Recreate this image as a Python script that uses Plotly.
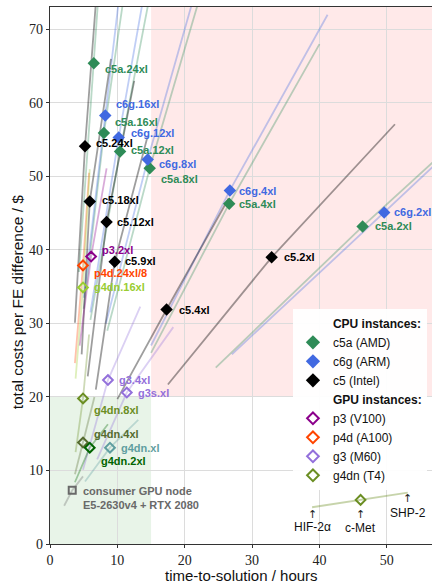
import plotly.graph_objects as go

# ------------------------------------------------------------------ data
inst_names = ["c5a.24xl", "c5a.16xl", "c5a.12xl", "c5a.8xl", "c5a.4xl", "c5a.2xl",
              "c6g.16xl", "c6g.12xl", "c6g.8xl", "c6g.4xl", "c6g.2xl",
              "c5.24xl", "c5.18xl", "c5.12xl", "c5.9xl", "c5.4xl", "c5.2xl",
              "p3.2xl", "p4d.24xl/8", "g3.4xl", "g3s.xl",
              "g4dn.16xl", "g4dn.8xl", "g4dn.4xl", "g4dn.2xl", "g4dn.xl",
              "consumer"]
inst_labels = ["c5a.24xl", "c5a.16xl", "c5a.12xl", "c5a.8xl", "c5a.4xl", "c5a.2xl",
               "c6g.16xl", "c6g.12xl", "c6g.8xl", "c6g.4xl", "c6g.2xl",
               "c5.24xl", "c5.18xl", "c5.12xl", "c5.9xl", "c5.4xl", "c5.2xl",
               "p3.2xl", "p4d.24xl/8", "g3.4xl", "g3s.xl",
               "g4dn.16xl", "g4dn.8xl", "g4dn.4xl", "g4dn.2xl", "g4dn.xl",
               "consumer GPU node<br>E5-2630v4 + RTX 2080"]
# c-Met (marker) time-to-solution [h] and cost [$]
t_cmet = [6.5, 8.0, 10.4, 14.8, 26.6, 46.4,
          8.2, 10.2, 14.5, 26.7, 49.6,
          5.2, 5.9, 8.4, 9.6, 17.3, 32.9,
          6.1, 4.9, 8.6, 11.4,
          4.9, 4.9, 4.9, 5.9, 8.9,
          3.3]
c_cmet = [65.4, 55.9, 53.4, 51.1, 46.3, 43.2,
          58.3, 55.3, 52.3, 48.1, 45.1,
          54.1, 46.6, 43.8, 38.4, 31.9, 39.0,
          39.1, 37.9, 22.3, 20.6,
          34.9, 19.8, 13.8, 13.1, 13.1,
          7.3]
# HIF-2alpha (line start)
t_hif = [4.3, 5.0, 6.0, 8.5, 15.0, 24.6,
         5.0, 6.0, 8.3, 15.0, 27.0,
         3.7, 4.7, 5.6, 6.8, 10.0, 17.5,
         4.4, 3.7, 4.9, 7.0,
         3.8, 3.8, 3.7, 3.7, 5.2,
         2.1]
c_hif = [37.0, 32.0, 30.5, 29.0, 26.0, 24.0,
         33.5, 31.5, 30.0, 27.0, 25.8,
         30.1, 25.8, 22.8, 21.0, 19.7, 21.7,
         27.0, 24.6, 10.1, 11.5,
         22.5, 12.5, 9.5, 8.4, 8.5,
         5.2]
# SHP-2 (line end)
t_shp = [7.6, 11.2, 15.0, 22.5, 40.0, 70.0,
         10.8, 14.5, 22.0, 41.2, 75.0,
         7.0, 9.05, 12.5, 14.5, 26.5, 51.2,
         8.4, 5.8, 13.4, 18.3,
         5.9, 5.8, 6.6, 8.6, 13.1,
         4.9]
c_shp = [80.0, 76.0, 75.5, 75.2, 68.0, 63.0,
         78.5, 77.6, 76.5, 72.0, 67.0,
         76.0, 66.0, 63.0, 55.5, 47.0, 57.1,
         51.1, 50.5, 32.3, 29.5,
         51.0, 28.5, 20.0, 16.3, 16.9,
         9.2]

time_limit = 15      # hours
cost_limit = 20      # $

key_t = [38.9, 46.1, 53.1]
key_c = [5.0, 6.0, 7.0]
key_labels = ["HIF-2α", "c-Met", "SHP-2"]

legend_cpu = ["c5a (AMD)", "c6g (ARM)", "c5 (Intel)"]
legend_gpu = ["p3 (V100)", "p4d (A100)", "g3 (M60)", "g4dn (T4)"]

x_ticks = [0, 10, 20, 30, 40, 50]
y_ticks = [0, 10, 20, 30, 40, 50, 60, 70]

# ------------------------------------------------------------------ styles
SG, RB, BK = "#2E8B57", "#4169E1", "#000000"
PM, OR, MP = "#8B008B", "#FF4500", "#9370DB"
YG, OD, DO, DG, CB, GR = "#9ACD32", "#6B8E23", "#556B2F", "#006400", "#5F9EA0", "#696969"

# name: (color, symbol, dx, dy_down)
style = {
    "c5a.24xl": (SG, "diamond", 9, 6), "c5a.16xl": (SG, "diamond", 9, -11),
    "c5a.12xl": (SG, "diamond", 9, -1), "c5a.8xl": (SG, "diamond", 9, 11),
    "c5a.4xl": (SG, "diamond", 8, 0), "c5a.2xl": (SG, "diamond", 10, 0),
    "c6g.16xl": (RB, "diamond", 9, -11), "c6g.12xl": (RB, "diamond", 10, -4),
    "c6g.8xl": (RB, "diamond", 9, 4), "c6g.4xl": (RB, "diamond", 7, 1),
    "c6g.2xl": (RB, "diamond", 8, 0),
    "c5.24xl": (BK, "diamond", 9, -3), "c5.18xl": (BK, "diamond", 10, -1),
    "c5.12xl": (BK, "diamond", 8, 0), "c5.9xl": (BK, "diamond", 8, -1),
    "c5.4xl": (BK, "diamond", 10, 0), "c5.2xl": (BK, "diamond", 10, 0),
    "p3.2xl": (PM, "diamond-open", 9, -7), "p4d.24xl/8": (OR, "diamond-open", 9, 8),
    "g3.4xl": (MP, "diamond-open", 9, 0), "g3s.xl": (MP, "diamond-open", 9, 0),
    "g4dn.16xl": (YG, "diamond-open", 9, 0), "g4dn.8xl": (OD, "diamond-open", 9, 12),
    "g4dn.4xl": (DO, "diamond-open", 9, -9), "g4dn.2xl": (DG, "diamond-open", 9, 13),
    "g4dn.xl": (CB, "diamond-open", 9, 0),
    "consumer": (GR, "square-open", 9, 7.5),
}


def rgba(hexcol, a):
    h = hexcol.lstrip("#")
    r, g, b = int(h[0:2], 16), int(h[2:4], 16), int(h[4:6], 16)
    return f"rgba({r},{g},{b},{a})"


def marker_of(col, sym):
    if sym == "diamond":
        return dict(symbol=sym, size=9.6, color=col, line=dict(width=0))
    if sym == "square-open":
        return dict(symbol=sym, size=7, color=col, line=dict(width=2, color=col))
    return dict(symbol=sym, size=7.5, color=col, line=dict(width=2, color=col))


fig = go.Figure()

# lines first (HIF-2a -> c-Met -> SHP-2)
for i, n in enumerate(inst_names):
    col, sym, dx, dy = style[n]
    a = 0.38 if col == BK else 0.33
    fig.add_trace(go.Scatter(
        x=[t_hif[i], t_cmet[i], t_shp[i]], y=[c_hif[i], c_cmet[i], c_shp[i]],
        mode="lines", line=dict(color=rgba(col, a), width=1.8),
        showlegend=False, hoverinfo="skip"))

# key example line
fig.add_trace(go.Scatter(x=key_t, y=key_c, mode="lines",
                         line=dict(color=rgba(OD, 0.38), width=1.8),
                         showlegend=False, hoverinfo="skip"))

# markers
for i, n in enumerate(inst_names):
    col, sym, dx, dy = style[n]
    fig.add_trace(go.Scatter(x=[t_cmet[i]], y=[c_cmet[i]], mode="markers",
                             marker=marker_of(col, sym), showlegend=False,
                             name=n, cliponaxis=False))
fig.add_trace(go.Scatter(x=[key_t[1]], y=[key_c[1]], mode="markers",
                         marker=marker_of(OD, "diamond-open"), showlegend=False))

# labels
for i, n in enumerate(inst_names):
    col, sym, dx, dy = style[n]
    fig.add_annotation(x=t_cmet[i], y=c_cmet[i], text="<b>" + inst_labels[i] + "</b>",
                       showarrow=False, xanchor="left", yanchor="middle", align="left",
                       xshift=dx, yshift=-dy,
                       font=dict(family="Liberation Sans", size=11, color=col))

# key labels (arrow + name)
arrow_shift = [-7, -15, -6]
text_shift = [-20, -28, -20]
for k in range(3):
    fig.add_annotation(x=key_t[k], y=key_c[k], text="↑",
                       showarrow=False, xanchor="center", yanchor="middle",
                       yshift=arrow_shift[k],
                       font=dict(family="DejaVu Sans", size=11, color="#222"))
    fig.add_annotation(x=key_t[k], y=key_c[k], text=key_labels[k],
                       showarrow=False, xanchor="center", yanchor="middle",
                       yshift=text_shift[k],
                       font=dict(family="Liberation Sans", size=12, color="#111"))

# legend entries
hdr = dict(mode="markers", marker=dict(color="rgba(0,0,0,0)", size=1,
                                       line=dict(width=0)))
fig.add_trace(go.Scatter(x=[None], y=[None], name="<b>CPU instances:</b>", **hdr))
for lab, col in zip(legend_cpu, [SG, RB, BK]):
    fig.add_trace(go.Scatter(x=[None], y=[None], mode="markers", name=lab,
                             marker=dict(symbol="diamond", size=11, color=col)))
fig.add_trace(go.Scatter(x=[None], y=[None], name="<b>GPU instances:</b>", **hdr))
for lab, col in zip(legend_gpu, [PM, OR, MP, OD]):
    fig.add_trace(go.Scatter(x=[None], y=[None], mode="markers", name=lab,
                             marker=dict(symbol="diamond-open", size=9, color=col,
                                         line=dict(width=2, color=col))))

# shaded regions
fig.add_shape(type="rect", xref="x", yref="y", x0=time_limit, x1=1000,
              y0=cost_limit, y1=1000, fillcolor="rgba(255,0,0,0.085)",
              line=dict(width=0), layer="below")
fig.add_shape(type="rect", xref="x", yref="y", x0=0, x1=time_limit,
              y0=0, y1=cost_limit, fillcolor="rgba(0,128,0,0.09)",
              line=dict(width=0), layer="below")

axis_common = dict(
    showgrid=True, gridcolor="#dcdcdc", gridwidth=1.4, zeroline=False,
    showline=True, linecolor="#333", linewidth=1.2,
    ticks="outside", ticklen=3, tickcolor="#333", tickwidth=1,
    tickfont=dict(family="Liberation Serif", size=14, color="#222"),
    automargin=False,
)
fig.update_xaxes(range=[0, 56.7], tickvals=x_ticks, mirror=True, **axis_common)
fig.update_yaxes(range=[0, 73.05], tickvals=y_ticks, **axis_common)

# axis titles
fig.add_annotation(xref="paper", yref="paper", x=0.5, y=0, text="time-to-solution / hours",
                   showarrow=False, xanchor="center", yanchor="middle", yshift=-31.5,
                   font=dict(family="Liberation Sans", size=15, color="#111"))
fig.add_annotation(xref="paper", yref="paper", x=0, y=0.45,
                   text="total costs per FE difference / $", textangle=-90,
                   showarrow=False, xanchor="center", yanchor="middle", xshift=-33,
                   font=dict(family="Liberation Sans", size=15.5, color="#111"))

fig.update_layout(
    width=432, height=584,
    margin=dict(l=50, r=0, t=7, b=40),
    plot_bgcolor="white", paper_bgcolor="white",
    font=dict(family="Liberation Sans", size=12, color="#111"),
    legend=dict(x=0.636, y=0.438, xanchor="left", yanchor="top",
                bgcolor="rgba(255,255,255,0.92)", borderwidth=0,
                font=dict(family="Liberation Sans", size=12, color="#111"),
                tracegroupgap=0, itemclick=False),
    showlegend=True,
)

fig.write_html("out.html")
